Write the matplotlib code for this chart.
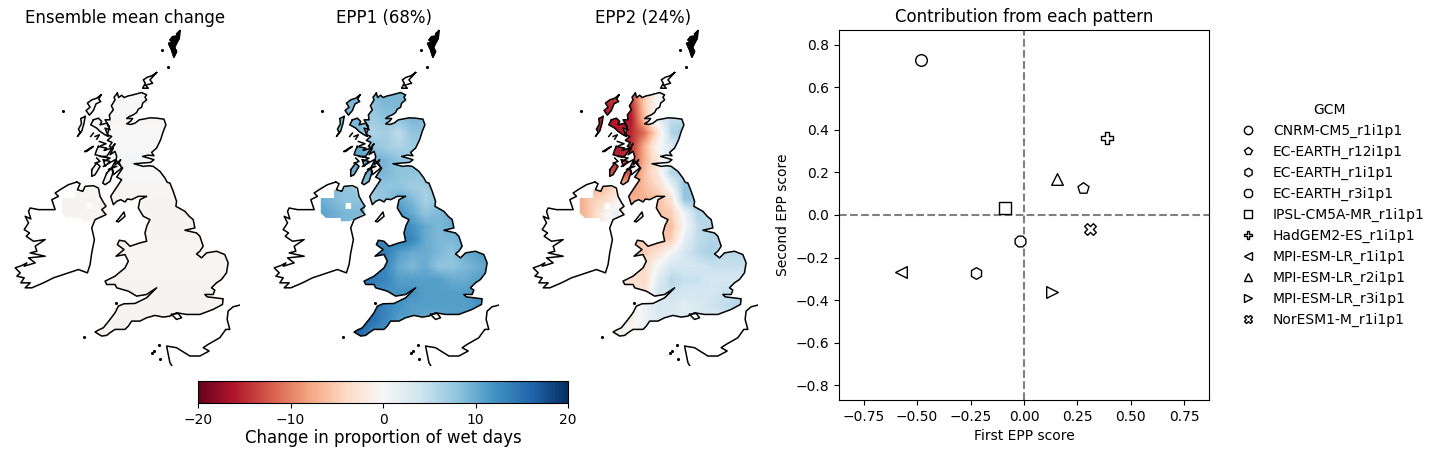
import numpy as np
import matplotlib
matplotlib.use('Agg')
import matplotlib.pyplot as plt
from matplotlib.patches import PathPatch
from matplotlib.path import Path
from matplotlib.lines import Line2D

# map lattice, in map units
lat_x = [140, 180, 220, 260, 300, 340, 380, 420, 460, 500, 540, 580, 620, 660, 700]
lat_y = [220, 260, 300, 340, 380, 420, 460, 500, 540, 580, 620, 660, 700, 740, 780, 820, 860, 900, 940, 980]

epp1 = [
    [9, 9, 9, 9, 9, 9, 9, 9, 9, 9, 9, 9, 9, 9, 9],
    [9, 9, 9, 9, 9, 8, 9, 9, 9, 9, 9, 9, 9, 9, 9],
    [9, 9, 9, 9, 9, 7, 8, 8, 9, 9, 9, 9, 9, 9, 9],
    [9, 9, 9, 9, 9, 6, 7, 5, 8, 8, 8, 8, 8, 8, 8],
    [9, 9, 9, 9, 10, 8, 7, 6, 7, 7, 7, 7, 7, 7, 7],
    [9, 9, 9, 9, 11, 10, 9, 8, 8, 8, 8, 8, 8, 8, 8],
    [9, 9, 9, 9, 10, 10, 9, 8, 8, 8, 8, 8, 8, 8, 8],
    [9, 9, 9, 8, 8, 8, 8, 8, 7, 7, 8, 8, 8, 8, 8],
    [10, 10, 9, 8, 8, 7, 8, 10, 9, 6.5, 8, 9, 9, 9, 9],
    [11, 11, 10, 9, 9, 9, 10, 12, 10, 8, 9, 10, 10, 10, 10],
    [11, 11, 10, 9, 9, 10, 12, 13, 12, 10, 9, 10, 10, 10, 10],
    [11, 11, 10, 10, 11, 12, 13, 14, 13, 10, 9, 9, 10, 10, 10],
    [12, 12, 12, 12, 13, 14, 14, 11, 10, 10, 9, 8, 10, 11, 11],
    [12, 12, 12, 12, 13, 14, 13, 10, 9, 10, 8, 8, 9, 10, 11],
    [13, 13, 13, 13, 14, 14, 13, 11, 11, 11, 11, 10, 10, 11, 11],
    [13, 13, 13, 13, 13, 13, 12, 12, 12, 11, 11, 11, 11, 12, 12],
    [14, 14, 14, 14, 15, 15, 13, 12, 11, 11, 11, 11, 11, 12, 12],
    [15, 15, 15, 15, 16, 15, 13, 11, 11, 10, 10, 11, 11, 11, 11],
    [15, 15, 15, 15, 16, 13, 12, 11, 11, 10, 10, 11, 11, 11, 11],
    [15, 15, 15, 15, 16, 13, 12, 11, 11, 10, 10, 11, 11, 11, 11],
]

epp2 = [
    [-13, -13, -13, -14, -14, -13, -5, 1, 1, 1, 1, 1, 1, 1, 1],
    [-14, -14, -14, -15, -15, -15, -5, 0, 2, 2, 2, 2, 2, 2, 2],
    [-15, -15, -15, -16, -16, -16, -6, 2, 5, 5, 5, 5, 5, 5, 5],
    [-16, -16, -16, -16, -16, -15, -11, -3, 6, 8, 8, 8, 8, 8, 8],
    [-15, -15, -15, -15, -16, -15, -7, 0, 3, 4, 4, 4, 4, 4, 4],
    [-14, -14, -14, -14, -15, -14, -7, -2, 3, 4, 4, 4, 4, 4, 4],
    [-13, -13, -13, -13, -13, -12, -6, -2, 6, 6, 6, 6, 6, 6, 6],
    [-8, -7, -7, -6, -4, -9, -6, -4, 1, 8, 8, 8, 8, 8, 8],
    [-8, -8, -5, -4, -1, -7, -7, -6, -3, 8, 7, 7, 7, 7, 7],
    [-8, -8, -5, -1, 2, -6, -6, -6, -5, 1, 6, 5, 5, 5, 5],
    [-8, -8, -5, -1, 2, -5, -5, -6, -6, 0, 5, 6, 6, 6, 6],
    [-5, -5, -5, -5, -5, -5, -5, -6, -5, 2, 5, 6, 6, 6, 6],
    [-5, -5, -5, -5, -5, -5, -5, -3, 0.5, 3.5, 5.5, 6.5, 5.5, 5.5, 5.5],
    [-4, -4, -4, -4, -4, -4, -4, 0.5, 3.5, 3.5, 3.5, 4.5, 4.5, 4.5, 4.5],
    [-3, -3, -3, -3, -3, -3, -4, 2.5, 5.5, 4.5, 4.5, 3.5, 3.5, 3.5, 3.5],
    [-3, -3, -3, -3, -3, -3, -3, 3.5, 4.5, 3.5, 3.5, 3.5, 4.5, 4.5, 4.5],
    [-2, -2, -2, -2, -2, -2, 1, 3, 3, 2, 3, 4, 5, 6, 6],
    [-1, -1, -1, -1, -1, -1, 1, 3, 3, 3, 3, 3, 3, 3, 3],
    [-1, -1, -1, -1, -1, 0, 1, 3, 3, 3, 3, 3, 3, 3, 3],
    [-1, -1, -1, -1, -1, 0, 1, 3, 3, 3, 3, 3, 3, 3, 3],
]

mean_rows = [0.1, 0.1, -0.2, -0.1, 0.1, 0.2, 0.1, -0.3, -0.5, -0.5,
             -0.5, -0.5, -0.4, -0.4, -0.5, -0.6, -0.6, -0.6, -0.6, -0.6]

# coastlines, in map units
gb_coast = [(352, 220), (356, 233), (365, 226), (372, 233), (385, 228), (395, 226), (410, 222), (425, 218),
            (440, 225), (435, 232), (440, 240), (428, 250), (425, 262), (415, 268), (410, 278), (400, 285),
            (388, 290), (380, 296), (398, 296), (392, 304), (380, 312), (392, 314), (405, 310), (418, 300),
            (430, 298), (450, 294), (470, 295), (492, 298), (498, 315), (490, 335), (486, 348), (482, 360),
            (470, 385), (455, 398), (462, 408), (445, 406), (428, 410), (450, 416), (462, 420), (452, 428),
            (425, 430), (402, 432), (430, 440), (447, 438), (460, 440), (480, 455), (495, 475), (502, 488),
            (510, 490), (520, 515), (530, 545), (528, 560), (555, 575), (568, 590), (580, 600), (585, 625),
            (555, 632), (590, 640), (600, 650), (610, 680), (600, 695), (590, 703), (605, 715), (620, 700),
            (650, 695), (675, 705), (685, 730), (680, 760), (665, 780), (650, 790), (635, 805), (645, 812),
            (640, 825), (615, 825), (622, 832), (645, 835), (670, 838), (668, 855), (640, 870), (600, 885),
            (560, 885), (530, 880), (510, 890), (490, 893), (465, 888), (440, 895), (420, 905), (395, 905),
            (385, 920), (375, 930), (345, 930), (330, 940), (320, 948), (305, 950), (285, 938), (295, 932),
            (310, 925), (330, 900), (345, 880), (355, 860), (372, 853), (405, 852), (440, 835), (470, 805),
            (440, 825), (410, 830), (385, 815), (350, 805), (345, 795), (320, 795), (315, 785), (345, 770),
            (375, 745), (385, 725), (375, 705), (348, 710), (372, 690), (352, 675), (358, 662), (375, 665),
            (390, 680), (420, 670), (440, 665), (435, 640), (441, 618), (450, 600), (430, 590), (415, 565),
            (420, 540), (440, 530), (415, 530), (395, 540), (382, 538), (375, 547), (362, 540), (350, 545),
            (340, 555), (332, 530), (345, 510), (365, 480), (350, 472), (368, 445), (355, 432), (362, 420),
            (345, 436), (350, 410), (345, 395), (330, 405), (340, 385), (328, 380), (336, 368), (322, 362),
            (335, 350), (322, 345), (328, 320), (315, 300), (330, 300), (328, 285), (340, 270), (334, 258),
            (345, 240), (342, 232), (352, 220)]

ireland_coast = [(230, 487), (240, 492), (232, 510), (248, 515), (255, 500), (280, 498), (295, 505), (300, 530),
                 (310, 548), (318, 560), (305, 570), (318, 585), (285, 600), (275, 625), (283, 660), (275, 700),
                 (270, 735), (262, 760), (235, 750), (205, 760), (160, 775), (130, 790), (95, 805), (75, 805),
                 (90, 790), (62, 790), (72, 775), (50, 770), (60, 760), (45, 745), (65, 738), (80, 730), (72, 740),
                 (105, 730), (85, 715), (135, 710), (90, 700), (110, 695), (105, 680), (135, 660), (100, 665),
                 (78, 650), (88, 640), (72, 630), (85, 610), (75, 590), (92, 598), (85, 575), (90, 565), (115, 570),
                 (135, 570), (165, 570), (155, 540), (175, 530), (165, 520), (180, 510), (205, 495), (230, 487)]

lewis = [(303, 225), (296, 238), (302, 245), (288, 252), (280, 272), (268, 286), (258, 272), (270, 262), (262, 250), (275, 240), (290, 235), (303, 225)]
uist = [(255, 290), (242, 296), (244, 312), (235, 328), (240, 338), (232, 350), (245, 334), (252, 310), (255, 290)]
skye = [(280, 300), (295, 295), (305, 305), (300, 315), (320, 310), (330, 330), (315, 325), (325, 350), (315, 345), (300, 335), (290, 325), (272, 315), (280, 300)]
rum = [(255, 395), (270, 385), (280, 380), (260, 395), (255, 395)]
mull = [(295, 380), (320, 385), (312, 392), (335, 385), (345, 372), (330, 395), (320, 410), (305, 410), (285, 405), (290, 390), (295, 380)]
islay = [(275, 450), (290, 430), (300, 440), (285, 465), (275, 470), (275, 450)]
jura = [(310, 420), (330, 425), (315, 440), (310, 420)]
kintyre = [(320, 460), (335, 445), (340, 455), (330, 485), (315, 495), (308, 490), (320, 460)]
argyll = [(310, 440), (345, 420), (358, 430), (365, 445), (340, 465), (335, 445), (345, 425)]
lochs = [[(285, 350), (298, 345), (290, 358)], [(298, 365), (318, 372), (302, 378)], [(300, 410), (330, 415), (312, 425)],
         [(350, 440), (325, 450), (342, 440)], [(290, 415), (300, 425), (285, 430)], [(280, 340), (272, 350)]]
man = [(350, 605), (372, 577), (375, 590), (355, 607), (350, 605)]
wight = [(515, 885), (535, 882), (545, 895), (530, 900), (515, 885)]
france = [(720, 857), (700, 862), (685, 875), (682, 900), (690, 930), (678, 930), (660, 955), (625, 975), (610, 985),
          (628, 995), (600, 1010), (570, 1010), (530, 985), (500, 980), (510, 1030), (516, 1040)]
shetland = [(540, 32), (530, 42), (534, 48), (518, 50), (510, 60), (518, 66), (506, 70), (515, 90), (522, 112), (530, 95), (524, 82), (530, 70), (538, 55), (540, 32)]
orkney = [(470, 158), (455, 168), (442, 172), (430, 180), (436, 190), (428, 205), (445, 205), (437, 196), (458, 190), (450, 180), (470, 158)]
specks = [(190, 272), (485, 90), (505, 141), (252, 952), (347, 851), (478, 978), (455, 1000), (463, 996), (480, 1018)]
ni_land = [(185, 535), (225, 535), (225, 510), (240, 515), (262, 500), (290, 505), (298, 530), (318, 560), (316, 580),
           (290, 598), (270, 605), (245, 605), (245, 595), (200, 595), (185, 580), (185, 535)]
neagh = [(260, 550), (276, 550), (276, 568), (260, 568), (260, 550)]

coast_lines = [gb_coast, ireland_coast, lewis, uist, skye, rum, mull, islay, jura, kintyre, argyll, man, wight, france, shetland, orkney] + lochs
land_parts = [gb_coast, ni_land, lewis, uist, skye, mull, islay, jura, kintyre]

# scatter scores
gcms = ['CNRM-CM5_r1i1p1', 'EC-EARTH_r12i1p1', 'EC-EARTH_r1i1p1', 'EC-EARTH_r3i1p1', 'IPSL-CM5A-MR_r1i1p1',
        'HadGEM2-ES_r1i1p1', 'MPI-ESM-LR_r1i1p1', 'MPI-ESM-LR_r2i1p1', 'MPI-ESM-LR_r3i1p1', 'NorESM1-M_r1i1p1']
first_score = [-0.48, 0.275, -0.224, -0.02, -0.088, 0.387, -0.573, 0.154, 0.13, 0.307]
second_score = [0.727, 0.127, -0.272, -0.122, 0.033, 0.362, -0.268, 0.169, -0.362, -0.066]
gcm_markers = ['o', 'p', 'h', '8', 's', 'P', '<', '^', '>', 'X']

W, H = 1440, 454
fig = plt.figure(figsize=(W / 100, H / 100), dpi=100)


def make_land_path():
    verts, codes = [], []
    for part in land_parts + [neagh]:
        pts = part[::-1] if part is neagh else part
        verts += pts
        codes += [Path.MOVETO] + [Path.LINETO] * (len(pts) - 2) + [Path.CLOSEPOLY]
    return Path(verts, codes)


def draw_map(left, values, title):
    ax = fig.add_axes([left / W, 1 - 366 / H, 226 / W, 338 / H])
    extent = [lat_x[0] - 20, lat_x[-1] + 20, lat_y[-1] + 20, lat_y[0] - 20]
    im = ax.imshow(values, cmap='RdBu', vmin=-20, vmax=20, extent=extent,
                   interpolation='bilinear', aspect='equal')
    clip = PathPatch(make_land_path(), transform=ax.transData, fc='none', ec='none')
    ax.add_patch(clip)
    im.set_clip_path(clip)
    for line in coast_lines:
        xs, ys = zip(*line)
        ax.plot(xs, ys, color='k', lw=1.1, solid_joinstyle='round')
    for blob in [shetland]:
        xs, ys = zip(*blob)
        ax.fill(xs, ys, color='k')
    xs, ys = zip(*specks)
    ax.plot(xs, ys, 'k.', ms=2.5)
    ax.set_xlim(42, 720)
    ax.set_ylim(1040, 24)
    ax.axis('off')
    ax.set_title(title, fontsize=12, pad=3.5, x=0.49)
    return im


mean_field = np.array(mean_rows)[:, None] * np.ones((len(lat_y), len(lat_x)))
im = draw_map(14, mean_field, 'Ensemble mean change')
draw_map(273, np.array(epp1), 'EPP1 (68%)')
draw_map(532, np.array(epp2), 'EPP2 (24%)')

cax = fig.add_axes([198 / W, 1 - 403 / H, 370 / W, 22 / H])
cb = fig.colorbar(im, cax=cax, orientation='horizontal', ticks=[-20, -10, 0, 10, 20])
cb.set_label('Change in proportion of wet days', fontsize=12, labelpad=1.5)

ax = fig.add_axes([839 / W, 1 - 400 / H, 370 / W, 370 / H])
for i, name in enumerate(gcms):
    ax.scatter(first_score[i], second_score[i], marker=gcm_markers[i], s=70,
               facecolor='white', edgecolor='k', linewidth=1, zorder=3)
ax.axhline(0, color='grey', ls='--', lw=1.5)
ax.axvline(0, color='grey', ls='--', lw=1.5)
ax.set_xlim(-0.865, 0.865)
ax.set_ylim(-0.87, 0.87)
ax.set_xticks([-0.75, -0.5, -0.25, 0, 0.25, 0.5, 0.75])
ax.set_yticks([-0.8, -0.6, -0.4, -0.2, 0, 0.2, 0.4, 0.6, 0.8])
ax.set_xlabel('First EPP score', labelpad=4)
ax.set_ylabel('Second EPP score')
ax.set_title('Contribution from each pattern', fontsize=12, pad=6)

handles = [Line2D([], [], ls='none', marker=m, mfc='white', mec='k', ms=6, mew=1) for m in gcm_markers]
ax.legend(handles, gcms, title='GCM', frameon=False, loc='center left', bbox_to_anchor=(1.0335, 0.5),
          labelspacing=0.5, handletextpad=0.8)

fig.savefig('out.png', dpi=100)
